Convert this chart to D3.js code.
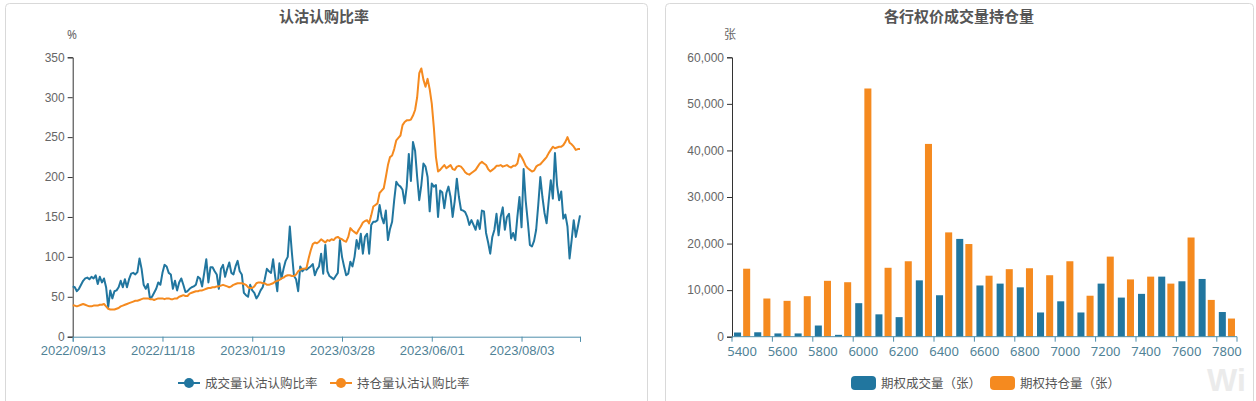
<!DOCTYPE html>
<html><head><meta charset="utf-8">
<script src="https://cdn.jsdelivr.net/npm/d3@7"></script>
<style>
html,body{margin:0;padding:0;background:#fff;}
svg{display:block;font-family:"Noto Sans","Noto Sans CJK SC",sans-serif;}
</style></head>
<body><svg id="c" width="1256" height="401"></svg>
<script>
// ---------- Left chart data ----------
const startDate = "2022-09-13";
const endDate = "2023-09-12";
const holidays = ["2022-10-03","2022-10-04","2022-10-05","2022-10-06","2022-10-07","2023-01-02","2023-01-23","2023-01-24","2023-01-25","2023-01-26","2023-01-27","2023-04-05","2023-05-01","2023-05-02","2023-05-03","2023-06-22","2023-06-23"];
const dateTickLabels = ["2022/09/13","2022/11/18","2023/01/19","2023/03/28","2023/06/01","2023/08/03"];
const volumeRatio = [63,62,57,60,65,70,73,74,72,75,73,77,66,75,68,73,62,37,58,48,57,58,62,70,62,72,62,72,79,80,78,81,98,85,65,60,66,48,50,55,60,68,65,80,90,88,80,78,60,70,58,68,73,65,56,57,60,62,63,65,75,73,63,80,97,68,87,87,82,78,60,85,90,75,85,93,80,78,88,95,82,78,55,52,50,65,58,55,48,52,58,62,72,85,82,80,97,75,57,92,73,85,95,100,138,105,76,72,57,88,82,85,84,86,88,91,77,84,88,104,79,115,82,76,74,72,76,80,121,100,88,77,79,94,88,100,121,110,129,104,125,129,104,140,144,144,146,165,150,142,158,121,135,144,171,194,190,188,184,167,188,229,195,244,233,200,171,190,217,213,200,157,192,188,190,150,183,181,161,180,188,175,150,170,198,175,159,158,156,150,140,146,140,134,146,135,158,157,130,118,104,125,134,154,127,150,162,134,150,154,123,130,121,150,175,137,210,170,144,115,113,120,134,165,200,175,155,142,170,196,173,230,190,171,182,148,153,138,98,121,146,125,138,152];
const openInterestRatio = [39,39,38,39,40,41,40,39,38,38,39,39,39,40,40,41,38,35,34,34,34,35,36,38,39,40,41,42,43,44,45,45,46,47,48,48,48,47,47,46,47,48,48,48,47,48,48,47,47,48,48,50,51,52,51,51,54,55,56,57,57,58,58,59,60,61,61,62,62,63,63,64,65,64,63,62,63,65,66,67,67,67,66,65,62,61,61,63,67,68,68,67,67,65,65,66,67,69,70,71,73,74,76,77,77,76,76,78,82,84,85,85,86,98,108,116,118,117,119,122,120,118,121,120,122,121,124,125,123,122,120,119,125,136,133,131,129,134,138,143,145,146,142,152,163,165,167,180,183,186,200,215,225,227,235,246,249,252,265,269,271,271,272,277,284,300,330,336,322,313,323,310,292,262,225,207,209,212,215,211,213,215,210,209,213,214,213,210,206,204,203,205,207,209,213,217,219,217,215,210,207,209,211,214,214,215,213,214,215,213,212,214,214,217,229,225,220,214,211,209,207,208,213,215,216,219,222,225,230,234,238,236,237,238,238,240,244,250,243,241,238,234,235,235];
const leftYTicks = [0,50,100,150,200,250,300,350];
const leftSeriesNames = ["成交量认沽认购比率","持仓量认沽认购比率"];

// ---------- Right chart data ----------
const strikes = [5400,5500,5600,5700,5800,5900,6000,6100,6200,6300,6400,6500,6600,6700,6800,6900,7000,7100,7200,7300,7400,7500,7600,7700,7800];
const optVolume = [900,950,700,700,2400,400,7200,4800,4200,12100,8900,21000,11000,11400,10600,5200,7600,5200,11400,8400,9200,12900,11900,12400,5300];
const optOpenInt = [14600,8200,7700,8700,12000,11700,53300,14800,16200,41400,22400,19900,13100,14500,14700,13200,16200,8800,17200,12300,12900,11400,21300,7900,3900];
const rightYTicks = [0,10000,20000,30000,40000,50000,60000];
const rightSeriesNames = ["期权成交量（张）","期权持仓量（张）"];

// ---------- build trading-day categories ----------
const fmtIn = d3.timeFormat("%Y-%m-%d"), fmtOut = d3.timeFormat("%Y/%m/%d");
const hol = new Set(holidays);
const dates = d3.timeDay.range(new Date(startDate+"T00:00"), d3.timeDay.offset(new Date(endDate+"T00:00"),1))
  .filter(d => d.getDay()!==0 && d.getDay()!==6 && !hol.has(fmtIn(d))).map(fmtOut);

const BLUE = "#21769f", ORANGE = "#f58a1f";
const svg = d3.select("#c");

// panels
svg.append("rect").attr("x",5.5).attr("y",3.5).attr("width",642).attr("height",410).attr("rx",4).attr("fill","#fff").attr("stroke","#d9d9d9");
svg.append("rect").attr("x",665.5).attr("y",3.5).attr("width",588).attr("height",410).attr("rx",4).attr("fill","#fff").attr("stroke","#d9d9d9");

// watermark
svg.append("text").attr("x",1207).attr("y",391).attr("font-size",32).attr("font-weight","bold")
  .attr("fill","#ebebeb").attr("font-family","Liberation Sans, sans-serif").text("Wi");

const titleStyle = s => s.attr("font-size",15).attr("font-weight","bold").attr("fill","#555").attr("text-anchor","middle");
svg.append("text").attr("x",324).attr("y",22).text("认沽认购比率").call(titleStyle);
svg.append("text").attr("x",959).attr("y",22).text("各行权价成交量持仓量").call(titleStyle);

// ===== Left chart =====
const L = {x0:72.7, x1:580, y0:336.7, y1:57.3};
const xL = d3.scalePoint().domain(d3.range(dates.length)).range([L.x0, L.x1]);
const yL = d3.scaleLinear().domain([0,350]).range([L.y0, L.y1]);
svg.append("text").attr("x",72).attr("y",39).attr("text-anchor","middle").attr("font-size",12).attr("fill","#666").text("%");

const gLy = svg.append("g").attr("transform",`translate(${L.x0},0)`)
  .call(d3.axisLeft(yL).tickValues(leftYTicks).tickSize(5).tickPadding(3));
gLy.select(".domain").attr("stroke","#333");
gLy.selectAll(".tick line").attr("stroke","#333");
gLy.selectAll(".tick text").attr("fill","#666").attr("font-size",12);

const tickIdx = dates.map((d,i)=>i).filter(i=>dateTickLabels.includes(dates[i]));
const gLx = svg.append("g").attr("transform",`translate(0,${L.y0})`)
  .call(d3.axisBottom(xL).tickValues(tickIdx.concat([dates.length-1])).tickSize(5).tickPadding(4)
    .tickFormat(i => dateTickLabels.includes(dates[i]) ? dates[i] : ""));
gLx.select(".domain").attr("stroke","#4f8fab");
gLx.selectAll(".tick line").attr("stroke","#4f8fab");
gLx.selectAll(".tick text").attr("fill","#4f8296").attr("font-size",13);

const lineL = d3.line().x((d,i)=>xL(i)).y(d=>yL(d));
svg.append("path").datum(volumeRatio).attr("d",lineL).attr("fill","none").attr("stroke",BLUE).attr("stroke-width",2).attr("stroke-linejoin","round");
svg.append("path").datum(openInterestRatio).attr("d",lineL).attr("fill","none").attr("stroke",ORANGE).attr("stroke-width",2).attr("stroke-linejoin","round");

// left legend
const legL = [{n:leftSeriesNames[0],c:BLUE,x:178},{n:leftSeriesNames[1],c:ORANGE,x:330}];
legL.forEach(l=>{
  const g = svg.append("g").attr("transform",`translate(${l.x},383)`);
  g.append("line").attr("x1",0).attr("x2",22).attr("stroke",l.c).attr("stroke-width",2);
  g.append("circle").attr("cx",11).attr("r",5).attr("fill",l.c);
  g.append("text").attr("x",27).attr("y",4.5).attr("font-size",12.5).attr("fill","#555").text(l.n);
});

// ===== Right chart =====
const R = {x0:732, x1:1237, y0:336.7, y1:57.3};
const xR = d3.scaleBand().domain(strikes).range([R.x0,R.x1]);
const yR = d3.scaleLinear().domain([0,60000]).range([R.y0,R.y1]);
svg.append("text").attr("x",730).attr("y",39).attr("text-anchor","middle").attr("font-size",12).attr("fill","#666").text("张");

const gRy = svg.append("g").attr("transform",`translate(${R.x0},0)`)
  .call(d3.axisLeft(yR).tickValues(rightYTicks).tickSize(5).tickPadding(3).tickFormat(d3.format(",")));
gRy.select(".domain").attr("stroke","#333");
gRy.selectAll(".tick line").attr("stroke","#333");
gRy.selectAll(".tick text").attr("fill","#666").attr("font-size",12);

const bw = xR.bandwidth();
const barW = bw*0.8/2.3;
const series = [{v:optVolume,c:BLUE,o:0},{v:optOpenInt,c:ORANGE,o:1}];
series.forEach(s=>{
  svg.append("g").selectAll("rect").data(strikes).join("rect")
    .attr("x",(d)=>xR(d)+bw*0.1+s.o*barW*1.3)
    .attr("width",barW)
    .attr("y",(d,i)=>yR(s.v[i]))
    .attr("height",(d,i)=>R.y0-yR(s.v[i]))
    .attr("fill",s.c);
});

// x axis for right chart
const gRx = svg.append("g").attr("transform",`translate(0,${R.y0})`);
gRx.append("line").attr("x1",R.x0).attr("x2",R.x1).attr("stroke","#4f8fab");
const labeled = strikes.filter((d,i)=>i%2===0);
gRx.selectAll("line.tk").data(labeled.map(d=>xR(d)).concat([R.x1])).join("line").attr("class","tk")
  .attr("x1",d=>d).attr("x2",d=>d).attr("y1",0).attr("y2",5).attr("stroke","#4f8fab");
gRx.selectAll("text").data(labeled).join("text")
  .attr("x",d=>xR(d)+bw/2).attr("y",19).attr("text-anchor","middle").attr("font-size",13).attr("fill","#4f8296").text(d=>d);

// right legend
const legR = [{n:rightSeriesNames[0],c:BLUE,x:851},{n:rightSeriesNames[1],c:ORANGE,x:990}];
legR.forEach(l=>{
  const g = svg.append("g").attr("transform",`translate(${l.x},376)`);
  g.append("rect").attr("width",25).attr("height",14).attr("rx",4).attr("fill",l.c);
  g.append("text").attr("x",30).attr("y",11.5).attr("font-size",12.5).attr("fill","#555").text(l.n);
});
</script></body></html>
